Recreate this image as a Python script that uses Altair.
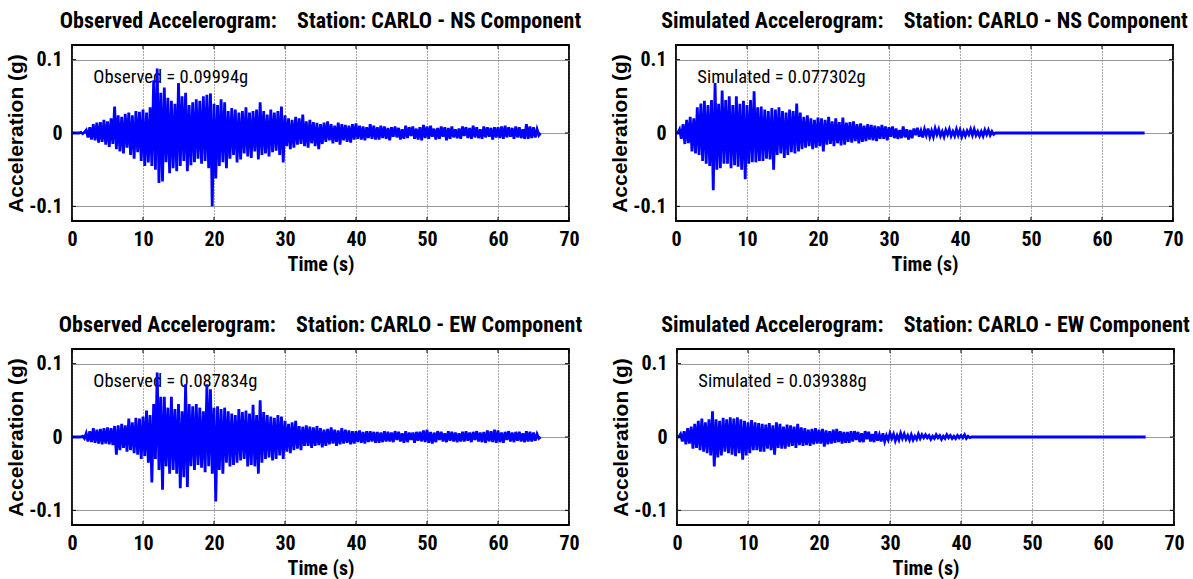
import altair as alt
import pandas as pd

# ---------------- data (acceleration in milli-g, sampled every 0.25 s) ----------------
DT = 0.25
RECORD_END = 66.0

obs_ns_mg = [
    0, 0, 0, 0,  0, 1, -1, 1,  4, -6, 8, -9,  12, -10, 14, -13,  15, -12, 18, -16,
    16, -19, 20, -15,  36, -22, 24, -25,  22, -28, 26, -20,  28, -30, 24, -35,  30, -26, 29, -38,
    32, -45, 28, -40,  35, -45, 72, -50,  88, -68, 55, -66,  62, -40, 48, -55,  44, -48, 40, -52,
    68, -45, 50, -38,  55, -52, 38, -44,  42, -40, 46, -35,  44, -42, 50, -38,  52, -48, 54, -100,
    40, -62, 38, -45,  46, -40, 42, -48,  30, -35, 34, -30,  32, -40, 28, -36,  30, -28, 35, -32,
    28, -34, 30, -25,  32, -36, 42, -30,  30, -28, 25, -32,  32, -26, 28, -24,  30, -30, 36, -40,
    24, -18, 20, -22,  18, -20, 22, -16,  20, -15, 25, -18,  16, -20, 18, -14,  15, -18, 14, -22,
    12, -15, 14, -12,  16, -10, 12, -14,  10, -12, 14, -16,  12, -10, 11, -12,  10, -13, 12, -9,
    13, -8, 10, -9,  9, -10, 8, -7,  12, -8, 10, -9,  8, -9, 10, -7,  9, -8, 7, -10,
    8, -5, 9, -6,  7, -9, 5, -8,  10, -7, 8, -4,  9, -8, 6, -9,  8, -10, 11, -7,
    9, -8, 10, -5,  6, -9, 7, -8,  9, -5, 8, -10,  7, -8, 9, -6,  5, -7, 6, -8,
    9, -4, 8, -7,  7, -8, 10, -6,  8, -7, 5, -8,  9, -6, 8, -5,  7, -9, 8, -6,
    8, -7, 9, -8,  10, -6, 8, -5,  7, -8, 9, -6,  8, -7, 5, -8,  12, -8, 9, -7,
    8, -6, 5, -3,
]

sim_ns_mg = [
    0, 0, 5, -8,  12, -15, 18, -14,  22, -25, 20, -28,  35, -30, 40, -38,  44, -42, 38, -45,
    45, -78, 68, -50,  40, -48, 58, -42,  45, -42, 50, -48,  38, -44, 50, -46,  40, -50, 44, -63,
    38, -42, 45, -40,  57, -40, 35, -38,  36, -38, 32, -35,  30, -36, 34, -50,  32, -30, 35, -28,
    30, -34, 28, -30,  32, -26, 30, -28,  40, -25, 28, -22,  22, -20, 24, -18,  20, -22, 18, -20,
    21, -18, 20, -25,  18, -16, 22, -15,  16, -18, 20, -14,  15, -17, 21, -16,  14, -12, 15, -13,
    16, -11, 12, -14,  13, -12, 10, -11,  12, -9, 11, -10,  10, -11, 9, -8,  11, -8, 9, -10,
    8, -5, 9, -7,  6, -8, 4, -7,  9, -6, 5, -9,  4, -7, 6, -3,  7, -5, 3, -6,
    5, -3, 6, -5,  3, -5, 6, -2,  5, -4, 2, -5,  4, -2, 5, -4,  2, -4, 5, -3,
    4, -5, 2, -4,  3, -2, 5, -3,  5, -3, 2, -4,  2, -4, 4, -2,  4, -3, 2, -2,
]

obs_ew_mg = [
    0, 0, 0, 0,  0, 0, 1, -2,  5, -6, 8, -7,  12, -8, 10, -9,  11, -10, 12, -9,
    13, -10, 12, -11,  15, -24, 16, -18,  18, -15, 16, -20,  25, -18, 20, -22,  26, -24, 25, -30,
    28, -26, 36, -35,  30, -62, 45, -30,  88, -45, 55, -72,  55, -40, 40, -50,  55, -45, 38, -50,
    45, -70, 35, -55,  72, -68, 45, -40,  42, -45, 45, -38,  40, -42, 35, -48,  72, -40, 65, -50,
    40, -88, 42, -45,  38, -50, 40, -35,  35, -40, 32, -38,  30, -35, 38, -32,  34, -30, 36, -40,
    32, -38, 44, -40,  30, -50, 50, -35,  34, -30, 30, -28,  28, -32, 26, -30,  30, -25, 28, -30,
    22, -20, 18, -22,  20, -18, 22, -16,  15, -18, 14, -12,  16, -12, 14, -15,  13, -12, 15, -11,
    12, -14, 10, -12,  11, -10, 13, -9,  10, -12, 9, -10,  12, -9, 10, -8,  9, -10, 8, -9,
    8, -7, 9, -8,  7, -9, 8, -7,  8, -6, 7, -8,  7, -8, 6, -7,  8, -6, 7, -6,
    6, -7, 8, -4,  7, -6, 5, -8,  8, -7, 6, -4,  6, -8, 7, -5,  7, -6, 9, -7,
    10, -8, 7, -9,  6, -7, 8, -4,  7, -6, 5, -7,  8, -5, 7, -6,  6, -7, 5, -6,
    7, -6, 8, -5,  6, -7, 7, -4,  8, -6, 6, -7,  7, -8, 9, -6,  8, -7, 10, -8,
    9, -7, 6, -8,  7, -4, 8, -6,  6, -7, 7, -5,  7, -6, 5, -7,  8, -6, 7, -6,
    6, -5, 4, -2,
]

sim_ew_mg = [
    0, 0, 4, -6,  8, -10, 12, -9,  14, -16, 18, -15,  22, -18, 25, -20,  20, -22, 24, -25,
    35, -40, 24, -28,  22, -25, 26, -20,  24, -22, 27, -24,  25, -26, 27, -22,  24, -31, 22, -25,
    20, -22, 23, -18,  20, -18, 19, -20,  18, -20, 17, -16,  19, -18, 16, -24,  20, -15, 18, -16,
    14, -16, 17, -13,  16, -12, 14, -15,  18, -11, 13, -12,  12, -11, 10, -12,  11, -10, 12, -9,
    10, -9, 11, -13,  9, -10, 8, -9,  10, -8, 11, -7,  8, -9, 7, -8,  7, -8, 8, -6,
    8, -4, 7, -7,  5, -7, 8, -3,  7, -6, 4, -7,  8, -5, 3, -6,  5, -6, 2, -4,
    5, -2, 4, -5,  2, -4, 5, -2,  4, -3, 2, -4,  3, -4, 1, -3,  4, -2, 3, -1,
    3, -1, 2, -3,  1, -2, 3, -1,  2, -3, 1, -2,  3, -1, 2, -2,  1, -2, 2, -1,
    2, -1, 3, -2,  1, -1,
]

titles = [
    "Observed Accelerogram:\u00a0\u00a0\u00a0\u00a0Station: CARLO - NS Component",
    "Simulated Accelerogram:\u00a0\u00a0\u00a0\u00a0Station: CARLO - NS Component",
    "Observed Accelerogram:\u00a0\u00a0\u00a0\u00a0Station: CARLO - EW Component",
    "Simulated Accelerogram:\u00a0\u00a0\u00a0\u00a0Station: CARLO - EW Component",
]
peak_labels = [
    "Observed = 0.09994g",
    "Simulated = 0.077302g",
    "Observed = 0.087834g",
    "Simulated = 0.039388g",
]
label_pos = (3.0, 0.076)
x_ticks = [0, 10, 20, 30, 40, 50, 60, 70]
y_ticks = [-0.1, 0, 0.1]

# ---------------- styling ----------------
NARROW = "Liberation Sans Narrow, Arial Narrow, Roboto Condensed, sans-serif"
WIDE = "Liberation Sans, Arial, sans-serif"
W, H = 497, 176
XS = alt.Scale(domain=[0, 70], nice=False, zero=False)
YS = alt.Scale(domain=[-0.12, 0.12], nice=False, zero=False)


def panel(vals_mg, title, label):
    n = len(vals_mg)
    t = [i * DT for i in range(n)] + [n * DT, RECORD_END]
    a = [v / 1000.0 for v in vals_mg] + [0.0, 0.0]
    df = pd.DataFrame({"t": t, "a": a})

    x_axis = alt.Axis(
        values=x_ticks, title="Time (s)", grid=True, gridColor="#444444",
        gridDash=[1, 2], gridWidth=0.9, domain=False, ticks=False,
        labelFlush=False, labelPadding=8, labelFont=NARROW, labelFontSize=20,
        labelFontWeight="bold", labelColor="black", titleFont=NARROW,
        titleFontSize=20, titleFontWeight="bold", titleColor="black",
        titlePadding=5,
    )
    y_axis = alt.Axis(
        values=y_ticks, title="Acceleration (g)", grid=True, gridColor="#999999",
        gridWidth=1, domain=False, ticks=False, labelPadding=10,
        labelExpr="replace(format(datum.value, '.1~f'), '\u2212', '-')",
        labelFont=NARROW, labelFontSize=20, labelFontWeight="bold",
        labelColor="black", titleFont=WIDE, titleFontSize=21,
        titleFontWeight="bold", titleColor="black", titlePadding=2,
    )

    line = alt.Chart(df).mark_line(color="#0000ff", strokeWidth=2.8, clip=True).encode(
        x=alt.X("t:Q", scale=XS, axis=x_axis),
        y=alt.Y("a:Q", scale=YS, axis=y_axis),
    )
    txt = alt.Chart(pd.DataFrame({"x": [label_pos[0]], "y": [label_pos[1]], "s": [label]})).mark_text(
        align="left", baseline="middle", font=NARROW, fontSize=18.5, color="black"
    ).encode(x=alt.X("x:Q", scale=XS), y=alt.Y("y:Q", scale=YS), text="s:N")

    xt = pd.DataFrame({"v": x_ticks})
    yt = pd.DataFrame({"v": y_ticks})
    tick_top = alt.Chart(xt).mark_rule(color="black", strokeWidth=1).encode(
        x=alt.X("v:Q", scale=XS), y=alt.value(0), y2=alt.value(4))
    tick_bot = alt.Chart(xt).mark_rule(color="black", strokeWidth=1).encode(
        x=alt.X("v:Q", scale=XS), y=alt.value(H - 4), y2=alt.value(H))
    tick_l = alt.Chart(yt).mark_rule(color="black", strokeWidth=1).encode(
        y=alt.Y("v:Q", scale=YS), x=alt.value(0), x2=alt.value(4))
    tick_r = alt.Chart(yt).mark_rule(color="black", strokeWidth=1).encode(
        y=alt.Y("v:Q", scale=YS), x=alt.value(W - 4), x2=alt.value(W))

    return alt.layer(txt, line, tick_top, tick_bot, tick_l, tick_r).properties(
        width=W, height=H,
        title=alt.TitleParams(
            text=title, font=NARROW, fontSize=22, fontWeight="bold",
            color="black", anchor="middle", offset=12,
        ),
    )


p1 = panel(obs_ns_mg, titles[0], peak_labels[0])
p2 = panel(sim_ns_mg, titles[1], peak_labels[1])
p3 = panel(obs_ew_mg, titles[2], peak_labels[2])
p4 = panel(sim_ew_mg, titles[3], peak_labels[3])

chart = alt.vconcat(
    alt.hconcat(p1, p2, spacing=25),
    alt.hconcat(p3, p4, spacing=25),
    spacing=37,
).properties(
    padding={"left": 4, "top": 8, "right": 0, "bottom": 0},
    background="white",
).configure_view(stroke="black", strokeWidth=1.8)

chart.save("out.html", embed_options={"renderer": "svg", "actions": False})
